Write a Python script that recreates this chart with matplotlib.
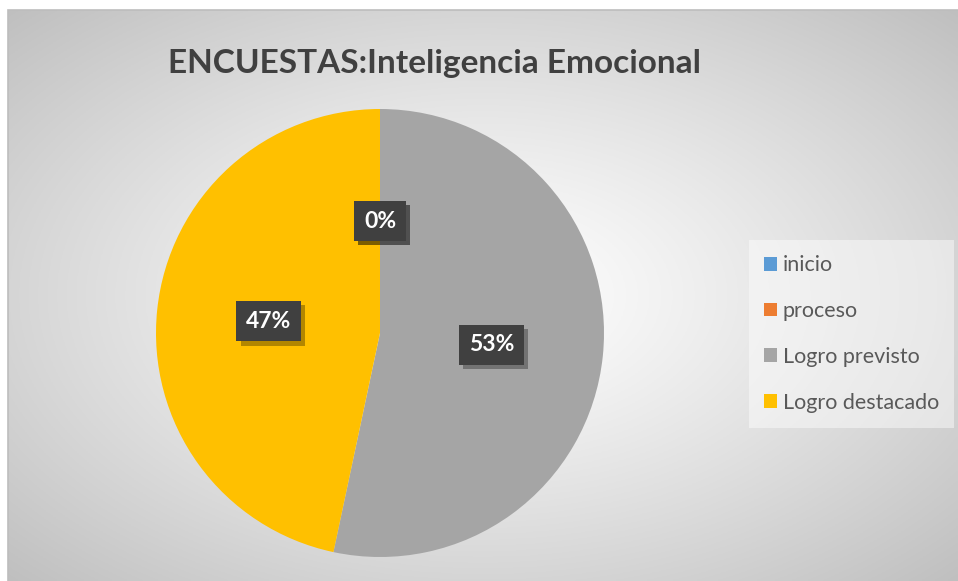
import numpy as np
import matplotlib
matplotlib.use("Agg")
from matplotlib import pyplot as plt
from matplotlib import patheffects
from matplotlib.patches import Rectangle

# Chart data
CATEGORIES = ["inicio", "proceso", "Logro previsto", "Logro destacado"]
VALUES = [0, 0, 8, 7]
COLORS = ["#5B9BD5", "#ED7D31", "#A5A5A5", "#FFC000"]
TITLE = "ENCUESTAS:Inteligencia Emocional"

FONT = ["Lato", "DejaVu Sans"]
W, H = 958, 581

fig = plt.figure(figsize=(W / 100, H / 100), dpi=100)
fig.patch.set_facecolor("white")

# Radial gradient background of the chart area
bg = fig.add_axes([8 / W, 0, (W - 8) / W, (H - 10) / H])
gx, gy = np.meshgrid(np.linspace(0, 1, 400), np.linspace(0, 1, 250))
dist = np.sqrt(((gx - 0.5) / 0.5) ** 2 + ((gy - 0.5) / 0.5) ** 2) / np.sqrt(2)
shade = 1.0 - 0.25 * np.clip(dist, 0, 1) ** 1.2
bg.imshow(np.dstack([shade] * 3), extent=(0, 1, 0, 1), aspect="auto", origin="lower")
bg.set_axis_off()
fig.add_artist(Rectangle((8 / W, -0.01), (W - 8) / W + 0.01, (H - 10) / H + 0.01,
                         transform=fig.transFigure, fill=False,
                         edgecolor="#bdbdbd", linewidth=1.2))

# Title
fig.text(434 / W, 1 - 63 / H, TITLE, ha="center", va="center",
         fontsize=24, fontweight="bold", color="#404040", family=FONT)

# Pie
cx, cy, r = 380, 333, 224
ax = fig.add_axes([(cx - r) / W, (H - cy - r) / H, 2 * r / W, 2 * r / H])
ax.set_facecolor("none")
wedges, _, autotexts = ax.pie(
    VALUES,
    colors=COLORS,
    startangle=90,
    counterclock=False,
    autopct=lambda p: f"{p:.0f}%",
    pctdistance=0.5,
    wedgeprops=dict(linewidth=0),
    textprops=dict(color="white", fontsize=16.5, fontweight="bold", family=FONT),
)
ax.set_xlim(-1, 1)
ax.set_ylim(-1, 1)
for t in autotexts:
    t.set_bbox(dict(boxstyle="square,pad=0.42", facecolor="#404040", edgecolor="none"))
    t.get_bbox_patch().set_path_effects([
        patheffects.SimplePatchShadow(offset=(3, -3), shadow_rgbFace="black", alpha=0.3),
        patheffects.Normal(),
    ])

# Legend
leg = fig.legend(
    wedges, CATEGORIES,
    loc="center left",
    bbox_to_anchor=(755 / W, 1 - 334 / H),
    frameon=True,
    handlelength=0.62,
    handleheight=0.62,
    handletextpad=0.28,
    labelspacing=1.2,
    borderpad=0.4,
    borderaxespad=0,
    prop=dict(family=FONT, size=15.5),
)
leg.get_frame().set_facecolor("white")
leg.get_frame().set_alpha(0.45)
leg.get_frame().set_edgecolor("none")
leg.get_frame().set_boxstyle("square")
for text in leg.get_texts():
    text.set_color("#595959")

fig.savefig("out.png", dpi=100)
